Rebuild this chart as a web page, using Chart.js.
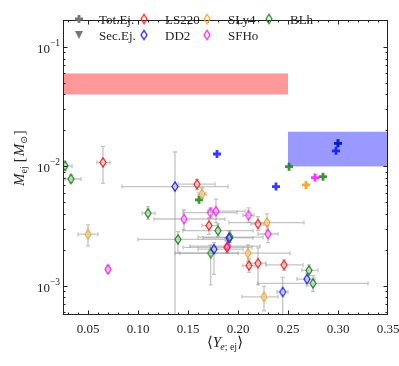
<!DOCTYPE html>
<html>
<head>
<meta charset="utf-8">
<script src="https://cdn.jsdelivr.net/npm/chart.js@4.4.1/dist/chart.umd.min.js"></script>
<style>
html,body{margin:0;padding:0;background:#fff;}
#wrap{width:399px;height:366px;position:relative;}
</style>
</head>
<body>
<div id="wrap"><canvas id="c" width="399" height="366"></canvas></div>
<script>
// ---------------- data ----------------
const xTickValues = [0.05, 0.10, 0.15, 0.20, 0.25, 0.30, 0.35];
const xTickLabels = ['0.05', '0.10', '0.15', '0.20', '0.25', '0.30', '0.35'];
const yTickValues = [1e-3, 1e-2, 1e-1];
const yTickExps = ['\u22123', '\u22122', '\u22121'];

const eosNames = ['LS220', 'DD2', 'SLy4', 'SFHo', 'BLh'];

// dynamical ejecta (diamonds with error bars)
const ls220X   = [0.065, 0.159, 0.171, 0.220, 0.189, 0.211, 0.220, 0.246];
const ls220Y   = [0.0108, 0.0071, 0.0032, 0.0033, 0.0021, 0.00148, 0.00155, 0.00150];
const ls220XLo = [0.059, 0.140, 0.164, 0.213, 0.145, 0.205, 0.212, 0.228];
const ls220XHi = [0.072, 0.177, 0.180, 0.226, 0.214, 0.217, 0.228, 0.265];
const ls220YLo = [0.0072, 0.0064, 0.0027, 0.0029, 0.0019, 0.00130, 0.00102, 0.00135];
const ls220YHi = [0.0147, 0.0078, 0.0037, 0.0038, 0.0024, 0.00168, 0.00208, 0.00165];

const dd2X   = [0.137, 0.191, 0.176, 0.269, 0.2447];
const dd2Y   = [0.00678, 0.00252, 0.00203, 0.00114, 0.00089];
const dd2XLo = [0.084, 0.165, 0.160, 0.259, 0.239];
const dd2XHi = [0.190, 0.215, 0.205, 0.277, 0.250];
const dd2YLo = [0.0004, 0.0022, 0.00125, 0.00100, 0.0004];
const dd2YHi = [0.0132, 0.0029, 0.0023, 0.00128, 0.00118];

const sly4X   = [0.050, 0.164, 0.229, 0.210, 0.226];
const sly4Y   = [0.00271, 0.00589, 0.00339, 0.00188, 0.00081];
const sly4XLo = [0.040, 0.160, 0.191, 0.142, 0.204];
const sly4XHi = [0.060, 0.168, 0.266, 0.252, 0.240];
const sly4YLo = [0.00216, 0.0054, 0.0029, 0.0016, 0.00062];
const sly4YHi = [0.00324, 0.0066, 0.0040, 0.0022, 0.00099];

const sfhoX   = [0.070, 0.146, 0.1725, 0.178, 0.2105, 0.230, 0.1895];
const sfhoY   = [0.00138, 0.00363, 0.00411, 0.00423, 0.00390, 0.00272, 0.00215];
const sfhoXLo = [0.068, 0.116, 0.145, 0.170, 0.205, 0.220, 0.152];
const sfhoXHi = [0.072, 0.187, 0.199, 0.207, 0.216, 0.240, 0.222];
const sfhoYLo = [0.00128, 0.00294, 0.0037, 0.00339, 0.0034, 0.0023, 0.0019];
const sfhoYHi = [0.00148, 0.00432, 0.0045, 0.00532, 0.0045, 0.0032, 0.0025];

const blhX   = [0.027, 0.033, 0.110, 0.140, 0.180, 0.192, 0.1727, 0.271, 0.275];
const blhY   = [0.0101, 0.00785, 0.00406, 0.00245, 0.00290, 0.00256, 0.00188, 0.00135, 0.00105];
const blhXLo = [0.020, 0.027, 0.104, 0.100, 0.145, 0.160, 0.137, 0.264, 0.220];
const blhXHi = [0.034, 0.043, 0.117, 0.187, 0.215, 0.225, 0.200, 0.280, 0.330];
const blhYLo = [0.0093, 0.0073, 0.0036, 0.00189, 0.0026, 0.0023, 0.00102, 0.00122, 0.00090];
const blhYHi = [0.0110, 0.0085, 0.0046, 0.00285, 0.0033, 0.0029, 0.0022, 0.00150, 0.00122];

// total ejecta (plus markers)
const totDd2X  = [0.179, 0.238, 0.298, 0.300];
const totDd2Y  = [0.0127, 0.00678, 0.0135, 0.0156];
const totSly4X = [0.268];
const totSly4Y = [0.0070];
const totSfhoX = [0.277];
const totSfhoY = [0.00806];
const totBlhX  = [0.251, 0.285, 0.161, 0.300];
const totBlhY  = [0.00995, 0.0082, 0.00525, 0.0156];

// shaded bands [xmin, xmax, ymin, ymax]
const redBand  = [0.025, 0.25, 0.040, 0.060];
const blueBand = [0.25, 0.35, 0.010, 0.0195];

// ---------------- helpers ----------------
const colors = {LS220: '#ff1f1f', DD2: '#1f1fff', SLy4: '#ffa51f', SFHo: '#ff1fff', BLh: '#1a8a1a'};
const plusColors = {DD2: 'rgba(0,0,255,0.78)', SLy4: 'rgba(255,150,0,0.85)', SFHo: 'rgba(255,0,255,0.8)', BLh: 'rgba(0,128,0,0.8)'};

function diamondCanvas(color) {
  const c = document.createElement('canvas');
  c.width = 10; c.height = 13;
  const g = c.getContext('2d');
  g.strokeStyle = color; g.lineWidth = 1.25;
  g.beginPath();
  g.moveTo(5, 1.8); g.lineTo(8, 6.5); g.lineTo(5, 11.2); g.lineTo(2, 6.5);
  g.closePath(); g.stroke();
  return c;
}
const diamonds = {};
eosNames.forEach(n => diamonds[n] = diamondCanvas(colors[n]));

function pts(xs, ys) { return xs.map((x, i) => ({x: x, y: ys[i]})); }

function diamondSet(name, xs, ys, xlo, xhi, ylo, yhi) {
  return {
    label: name, data: pts(xs, ys), pointStyle: diamonds[name], pointRadius: 5,
    showLine: false, errX: [xlo, xhi], errY: [ylo, yhi], kind: 'diamond'
  };
}
function plusSet(name, xs, ys) {
  return {
    label: name + ' tot', data: pts(xs, ys), pointStyle: 'cross', pointRadius: 4,
    borderColor: plusColors[name], backgroundColor: plusColors[name], pointBorderWidth: 2.8,
    showLine: false, kind: 'plus'
  };
}

const SERIF = '"Liberation Serif", "DejaVu Serif", serif';

// ---------------- plugin ----------------
const decor = {
  id: 'decor',
  beforeDatasetsDraw(chart) {
    const ctx = chart.ctx, xs = chart.scales.x, ys = chart.scales.y, a = chart.chartArea;
    ctx.save();
    ctx.beginPath(); ctx.rect(a.left, a.top, a.right - a.left, a.bottom - a.top); ctx.clip();
    // bands
    [[redBand, 'rgba(255,0,0,0.4)'], [blueBand, 'rgba(0,0,255,0.4)']].forEach(([b, col]) => {
      const x0 = xs.getPixelForValue(b[0]), x1 = xs.getPixelForValue(b[1]);
      const y0 = ys.getPixelForValue(b[3]), y1 = ys.getPixelForValue(b[2]);
      ctx.fillStyle = col; ctx.fillRect(x0, y0, x1 - x0, y1 - y0);
    });
    // error bars
    ctx.strokeStyle = 'rgba(140,140,140,0.5)'; ctx.lineWidth = 1.3;
    chart.data.datasets.forEach(ds => {
      if (ds.kind !== 'diamond') return;
      ds.data.forEach((p, i) => {
        const px = xs.getPixelForValue(p.x), py = ys.getPixelForValue(p.y);
        const xl = xs.getPixelForValue(ds.errX[0][i]), xh = xs.getPixelForValue(ds.errX[1][i]);
        const yl = ys.getPixelForValue(ds.errY[0][i]), yh = ys.getPixelForValue(ds.errY[1][i]);
        ctx.beginPath();
        ctx.moveTo(xl, py); ctx.lineTo(xh, py);
        ctx.moveTo(px, yl); ctx.lineTo(px, yh);
        ctx.moveTo(xl, py - 2); ctx.lineTo(xl, py + 2);
        ctx.moveTo(xh, py - 2); ctx.lineTo(xh, py + 2);
        ctx.moveTo(px - 2, yl); ctx.lineTo(px + 2, yl);
        ctx.moveTo(px - 2, yh); ctx.lineTo(px + 2, yh);
        ctx.stroke();
      });
    });
    ctx.restore();
  },
  afterDraw(chart) {
    const ctx = chart.ctx, xs = chart.scales.x, ys = chart.scales.y, a = chart.chartArea;
    ctx.save();
    // frame
    ctx.strokeStyle = '#222'; ctx.lineWidth = 1;
    ctx.strokeRect(a.left + 0.5, a.top + 0.5, a.right - a.left - 1, a.bottom - a.top - 1);
    // x ticks
    ctx.beginPath();
    const xMajor = xTickValues;
    for (let k = 3; k <= 35; k++) {
      const v = k / 100;
      const isMajor = xMajor.some(m => Math.abs(m - v) < 1e-9);
      const len = isMajor ? 4.5 : 2.5;
      const px = Math.round(xs.getPixelForValue(v)) + 0.5;
      if (px < a.left || px > a.right) continue;
      ctx.moveTo(px, a.bottom); ctx.lineTo(px, a.bottom - len);
      ctx.moveTo(px, a.top); ctx.lineTo(px, a.top + len);
    }
    // y ticks
    for (let e = -4; e <= -1; e++) {
      for (let m = 1; m <= 9; m++) {
        const v = m * Math.pow(10, e);
        if (v < ys.min || v > ys.max) continue;
        const len = m === 1 ? 4.5 : 2.5;
        const py = Math.round(ys.getPixelForValue(v)) + 0.5;
        ctx.moveTo(a.left, py); ctx.lineTo(a.left + len, py);
        ctx.moveTo(a.right, py); ctx.lineTo(a.right - len, py);
      }
    }
    ctx.stroke();
    // x tick labels
    ctx.fillStyle = '#222';
    ctx.font = '13px ' + SERIF;
    ctx.textAlign = 'center'; ctx.textBaseline = 'alphabetic';
    xTickValues.forEach((v, i) => {
      ctx.fillText(xTickLabels[i], xs.getPixelForValue(v), a.bottom + 18);
    });
    // y tick labels 10^e
    yTickValues.forEach((v, i) => {
      const py = ys.getPixelForValue(v);
      ctx.font = '9.5px ' + SERIF;
      const ew = ctx.measureText(yTickExps[i]).width;
      ctx.textAlign = 'right';
      ctx.fillText(yTickExps[i], a.left - 3, py - 1);
      ctx.font = '13px ' + SERIF;
      ctx.fillText('10', a.left - 3 - ew, py + 6);
    });
    // x title <Y_{e; ej}>
    ctx.textAlign = 'left';
    let x = 207, yb = 347;
    ctx.font = '15px ' + SERIF; ctx.fillText('\u27E8', x, yb); x += ctx.measureText('\u27E8').width;
    ctx.font = 'italic 15px ' + SERIF; ctx.fillText('Y', x, yb); x += ctx.measureText('Y').width - 1;
    ctx.font = 'italic 10px ' + SERIF; ctx.fillText('e', x, yb + 3); x += ctx.measureText('e').width;
    ctx.font = '10px ' + SERIF; ctx.fillText('; ej', x, yb + 3); x += ctx.measureText('; ej').width;
    ctx.font = '15px ' + SERIF; ctx.fillText('\u27E9', x, yb);
    // y title M_ej [M_sun]
    ctx.save();
    ctx.translate(24, 186); ctx.rotate(-Math.PI / 2);
    x = 0;
    ctx.font = 'italic 15px ' + SERIF; ctx.fillText('M', x, 0); x += ctx.measureText('M').width;
    ctx.font = '10px ' + SERIF; ctx.fillText('ej', x, 3); x += ctx.measureText('ej').width + 4;
    ctx.font = '15px ' + SERIF; ctx.fillText('[', x, 0); x += ctx.measureText('[').width + 1;
    ctx.font = 'italic 15px ' + SERIF; ctx.fillText('M', x, 0); x += ctx.measureText('M').width;
    ctx.font = '9px "DejaVu Sans", sans-serif'; ctx.fillText('\u2299', x, 3); x += ctx.measureText('\u2299').width + 1;
    ctx.font = '15px ' + SERIF; ctx.fillText(']', x, 0);
    ctx.restore();
    // legend
    ctx.font = '13px ' + SERIF; ctx.textAlign = 'left'; ctx.fillStyle = '#222';
    const r1 = 19, r2 = 35;
    // Tot.Ej. plus
    ctx.strokeStyle = '#777'; ctx.lineWidth = 2.8;
    ctx.beginPath(); ctx.moveTo(79 - 4, r1); ctx.lineTo(79 + 4, r1); ctx.moveTo(79, r1 - 4); ctx.lineTo(79, r1 + 4); ctx.stroke();
    ctx.fillText('Tot.Ej.', 99, r1 + 4.5);
    // Sec.Ej. triangle
    ctx.fillStyle = '#777';
    ctx.beginPath(); ctx.moveTo(75, r2 - 4); ctx.lineTo(83, r2 - 4); ctx.lineTo(79, r2 + 4); ctx.closePath(); ctx.fill();
    ctx.fillStyle = '#222';
    ctx.fillText('Sec.Ej.', 99, r2 + 4.5);
    const leg = [['LS220', 144, r1, 165], ['DD2', 144, r2, 165], ['SLy4', 207, r1, 228], ['SFHo', 207, r2, 228], ['BLh', 269, r1, 290]];
    leg.forEach(([n, mx, my, tx]) => {
      const im = diamonds[n];
      ctx.drawImage(im, mx - 5, my - 6.5);
      ctx.fillText(n, tx, my + 4.5);
    });
    ctx.restore();
  }
};

const datasets = [
  diamondSet('LS220', ls220X, ls220Y, ls220XLo, ls220XHi, ls220YLo, ls220YHi),
  diamondSet('DD2', dd2X, dd2Y, dd2XLo, dd2XHi, dd2YLo, dd2YHi),
  diamondSet('SLy4', sly4X, sly4Y, sly4XLo, sly4XHi, sly4YLo, sly4YHi),
  diamondSet('SFHo', sfhoX, sfhoY, sfhoXLo, sfhoXHi, sfhoYLo, sfhoYHi),
  diamondSet('BLh', blhX, blhY, blhXLo, blhXHi, blhYLo, blhYHi),
  plusSet('DD2', totDd2X, totDd2Y),
  plusSet('SLy4', totSly4X, totSly4Y),
  plusSet('SFHo', totSfhoX, totSfhoY),
  plusSet('BLh', totBlhX, totBlhY)
];

new Chart(document.getElementById('c'), {
  type: 'scatter',
  data: {datasets: datasets},
  options: {
    responsive: false, animation: false, devicePixelRatio: 1,
    layout: {padding: {left: 63, right: 11, top: 20, bottom: 51}},
    plugins: {legend: {display: false}, tooltip: {enabled: false}},
    scales: {
      x: {type: 'linear', min: 0.025, max: 0.35, display: false},
      y: {type: 'logarithmic', min: 5.71e-4, max: 0.168, display: false}
    }
  },
  plugins: [decor]
});
</script>
</body>
</html>
